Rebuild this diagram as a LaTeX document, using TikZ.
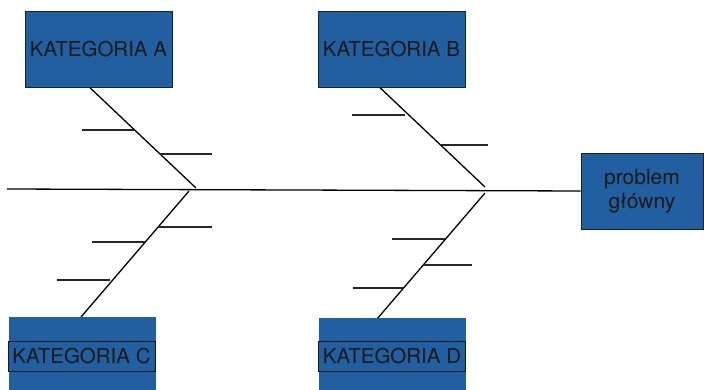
\documentclass[tikz,border=0pt]{standalone}
\usepackage{fontspec}
\setmainfont{TeX Gyre Heros}
\definecolor{boxblue}{RGB}{34,95,161}
\definecolor{boxedge}{RGB}{20,32,52}
\begin{document}
\begin{tikzpicture}[x=1pt,y=-1pt,
  bone/.style={line width=1.3pt, black},
  rib/.style={line width=1.3pt, black!85},
  catbox/.style={draw=boxedge, fill=boxblue, line width=0.8pt, inner sep=0pt,
    minimum width=147pt, minimum height=76pt, text=black!90,
    font=\fontsize{20.5}{24}\selectfont},
  catback/.style={fill=boxblue, draw=none, inner sep=0pt,
    minimum width=147pt, minimum height=73pt},
  catlabel/.style={draw=black!90, line width=0.8pt, inner sep=0pt,
    minimum width=147pt, minimum height=30pt, text=black!90,
    font=\fontsize{20.5}{24}\selectfont},
  probbox/.style={draw=boxedge, fill=boxblue, line width=0.8pt, inner sep=0pt,
    minimum width=122pt, minimum height=76pt, text=black!90, align=center,
    font=\fontsize{21}{24}\selectfont}]
\useasboundingbox (0,0) rectangle (704,390);

% spine and bone end points
\coordinate (tail) at (7,189);
\coordinate (a0) at (86,84);   \coordinate (ja) at (196,188);
\coordinate (b0) at (375,83);  \coordinate (jb) at (485,187);
\coordinate (c0) at (81,317);  \coordinate (jc) at (189,191);
\coordinate (d0) at (377,319); \coordinate (jd) at (485,193);

% rib end points
\coordinate (a1l) at (82,130);  \coordinate (a1r) at (135,130);
\coordinate (a2l) at (160,154); \coordinate (a2r) at (212,154);
\coordinate (b1l) at (352,115); \coordinate (b1r) at (405,115);
\coordinate (b2l) at (440,145); \coordinate (b2r) at (488,145);
\coordinate (c1l) at (158,227); \coordinate (c1r) at (212,227);
\coordinate (c2l) at (92,242);  \coordinate (c2r) at (145,242);
\coordinate (c3l) at (57,280);  \coordinate (c3r) at (110,280);
\coordinate (d1l) at (392,239); \coordinate (d1r) at (445,239);
\coordinate (d2l) at (423,265); \coordinate (d2r) at (472,265);
\coordinate (d3l) at (353,288); \coordinate (d3r) at (404,288);

% bones
\draw[bone] (a0) -- (ja);
\draw[bone] (b0) -- (jb);
\draw[bone] (jc) -- (c0);
\draw[bone] (jd) -- (d0);

% ribs
\foreach \r in {a1,a2,b1,b2,c1,c2,c3,d1,d2,d3}
  \draw[rib] (\r l) -- (\r r);

% category boxes
\node[catbox] (A) at (98.5,49) {KATEGORIA A};
\node[catbox] (B) at (391.5,49) {KATEGORIA B};
\node[catback] (Cb) at (82.5,353.5) {};
\node[catlabel] (C) at (81.5,356) {KATEGORIA C};
\node[catback] (Db) at (392,354.5) {};
\node[catlabel] (D) at (392,356) {KATEGORIA D};

% effect box and spine
\node[probbox] (P) at (642,191) {problem\\główny};
\draw[bone] (tail) -- (P.west);
\end{tikzpicture}
\end{document}
